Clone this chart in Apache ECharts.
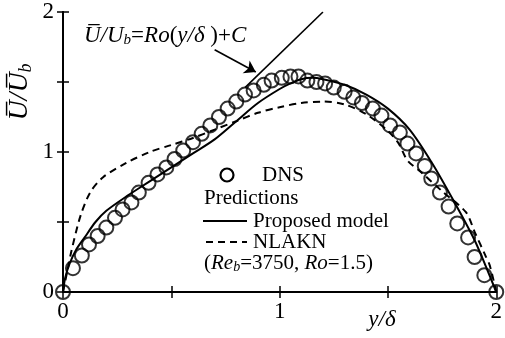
<!DOCTYPE html>
<html><head><meta charset="utf-8">
<script src="https://cdn.jsdelivr.net/npm/echarts@6/dist/echarts.min.js"></script>
<style>html,body{margin:0;padding:0;background:#fff}#c{width:505px;height:338px}</style>
</head><body><div id="c"></div>
<script>
var dnsX = [0, 0.046, 0.087, 0.12, 0.16, 0.2, 0.24, 0.275, 0.316, 0.35, 0.395, 0.436, 0.477, 0.515, 0.555, 0.6, 0.64, 0.68, 0.72, 0.76, 0.8, 0.84, 0.88, 0.927, 0.963, 1.01, 1.05, 1.087, 1.128, 1.17, 1.21, 1.25, 1.30, 1.34, 1.38, 1.43, 1.47, 1.51, 1.555, 1.59, 1.63, 1.67, 1.70, 1.74, 1.78, 1.82, 1.87, 1.90, 1.945, 2.0];
var dnsY = [0, 0.17, 0.26, 0.34, 0.40, 0.46, 0.53, 0.59, 0.64, 0.71, 0.78, 0.84, 0.89, 0.95, 1.01, 1.07, 1.13, 1.19, 1.25, 1.31, 1.36, 1.41, 1.44, 1.48, 1.51, 1.53, 1.54, 1.54, 1.51, 1.50, 1.49, 1.46, 1.43, 1.39, 1.35, 1.31, 1.26, 1.19, 1.14, 1.06, 0.99, 0.90, 0.81, 0.71, 0.61, 0.49, 0.39, 0.25, 0.12, 0];
var propX = [0, 0.01, 0.03, 0.06, 0.1, 0.15, 0.2, 0.3, 0.4, 0.5, 0.6, 0.7, 0.8, 0.9, 1.0, 1.05, 1.1, 1.15, 1.2, 1.3, 1.4, 1.5, 1.6, 1.7, 1.8, 1.9, 1.95, 2.0];
var propY = [0, 0.1, 0.2, 0.3, 0.39, 0.5, 0.58, 0.69, 0.79, 0.89, 0.99, 1.09, 1.22, 1.35, 1.45, 1.49, 1.52, 1.53, 1.52, 1.48, 1.41, 1.31, 1.16, 0.93, 0.66, 0.37, 0.19, 0];
var nlaknX = [0, 0.02, 0.04, 0.08, 0.125, 0.185, 0.29, 0.4, 0.5, 0.6, 0.7, 0.8, 0.9, 1.0, 1.1, 1.2, 1.3, 1.4, 1.5, 1.55, 1.59, 1.65, 1.75, 1.86, 1.9, 1.95, 1.97, 2.0];
var nlaknY = [0, 0.15, 0.3, 0.54, 0.71, 0.82, 0.92, 1.0, 1.05, 1.10, 1.16, 1.22, 1.28, 1.32, 1.35, 1.36, 1.34, 1.27, 1.15, 1.06, 0.94, 0.86, 0.72, 0.57, 0.43, 0.26, 0.19, 0];
var roX = [0.84, 1.2];
var roY = [1.46, 2.0];
var arrowFrom = [0.70, 1.73];
var arrowTo = [0.89, 1.571];
var xTicks = ['0', '1', '2'];
var yTicks = ['0', '1', '2'];

function zip(a, b) { return a.map(function (v, i) { return [v, b[i]]; }); }
var F = "'Liberation Serif','Times New Roman',serif";
var chart = echarts.init(document.getElementById('c'));
function axBase() {
  return {
    type: 'value', min: 0, max: 2, interval: 0.5,
    axisLine: { lineStyle: { color: '#000', width: 2 } },
    axisTick: { inside: true, length: 6, lineStyle: { color: '#000', width: 1.5 } },
    splitLine: { show: false }
  };
}
chart.setOption({
  animation: false,
  grid: { left: 63, right: 6, top: 12, bottom: 46 },
  xAxis: [
    Object.assign(axBase(), { position: 'bottom',
      axisLabel: { color: '#000', fontFamily: F, fontSize: 23, margin: 8, formatter: function (v) { return (v % 1 === 0) ? xTicks[v] : ''; } } }),
    Object.assign(axBase(), { position: 'top', axisLabel: { show: false } })
  ],
  yAxis: [
    Object.assign(axBase(), { position: 'left',
      axisLabel: { color: '#000', fontFamily: F, fontSize: 23, margin: 9, formatter: function (v) { return (v % 1 === 0) ? yTicks[v] : ''; } } }),
    Object.assign(axBase(), { position: 'right', axisLabel: { show: false } })
  ],
  series: [
    { type: 'line', data: zip(roX, roY), symbol: 'none', lineStyle: { color: '#000', width: 1.6 } },
    { type: 'lines', coordinateSystem: 'cartesian2d', symbol: ['none', 'arrow'], symbolSize: 11,
      lineStyle: { color: '#000', width: 1.6, opacity: 1 }, data: [{ coords: [arrowFrom, arrowTo] }] },
    { type: 'line', data: zip(propX, propY), symbol: 'none', smooth: 0.3, lineStyle: { color: '#000', width: 2 } },
    { type: 'line', data: zip(nlaknX, nlaknY), symbol: 'none', smooth: 0.3, lineStyle: { color: '#000', width: 2, type: [7, 5] } },
    { type: 'scatter', data: zip(dnsX, dnsY), symbol: 'circle', symbolSize: 14,
      itemStyle: { color: 'rgba(0,0,0,0)', borderColor: '#000', borderWidth: 2 } }
  ],
  graphic: [
    { type: 'text', left: 84, top: 24, style: { text: '{i|U\u0305/U}{s|b}{n|=}{i|Ro}{n|(}{i|y/\u03B4 }{n|)+}{i|C}',
      rich: { i: { fontFamily: F, fontStyle: 'italic', fontSize: 23, fill: '#000' },
              n: { fontFamily: F, fontSize: 23, fill: '#000' },
              s: { fontFamily: F, fontStyle: 'italic', fontSize: 15, fill: '#000', padding: [9, 0, 0, 0] } } } },
    { type: 'text', x: 20, y: 92, rotation: Math.PI / 2, style: { text: '{i|U\u0305/U\u0305}{s|b}', align: 'center', verticalAlign: 'middle',
      rich: { i: { fontFamily: F, fontStyle: 'italic', fontSize: 28, fill: '#000' },
              s: { fontFamily: F, fontStyle: 'italic', fontSize: 18, fill: '#000', padding: [12, 0, 0, 0] } } } },
    { type: 'text', x: 382, y: 320, style: { text: 'y/\u03B4', align: 'center', verticalAlign: 'middle', fontFamily: F, fontStyle: 'italic', fontSize: 23, fill: '#000' } },
    { type: 'circle', shape: { cx: 227, cy: 175, r: 6.5 }, style: { fill: 'none', stroke: '#000', lineWidth: 2.2 } },
    { type: 'text', x: 262, y: 175, style: { text: 'DNS', verticalAlign: 'middle', fontFamily: F, fontSize: 21, fill: '#000' } },
    { type: 'text', x: 204, y: 198, style: { text: 'Predictions', verticalAlign: 'middle', fontFamily: F, fontSize: 21, fill: '#000' } },
    { type: 'line', shape: { x1: 203, y1: 221, x2: 247, y2: 221 }, style: { stroke: '#000', lineWidth: 2 } },
    { type: 'text', x: 253, y: 221, style: { text: 'Proposed model', verticalAlign: 'middle', fontFamily: F, fontSize: 21, fill: '#000' } },
    { type: 'line', shape: { x1: 206, y1: 242, x2: 247, y2: 242 }, style: { stroke: '#000', lineWidth: 2, lineDash: [7, 5] } },
    { type: 'text', x: 253, y: 242, style: { text: 'NLAKN', verticalAlign: 'middle', fontFamily: F, fontSize: 21, fill: '#000' } },
    { type: 'text', x: 204, y: 263, style: { text: '{n|(}{i|Re}{s|b}{n|=3750, }{i|Ro}{n|=1.5)}', verticalAlign: 'middle',
      rich: { i: { fontFamily: F, fontStyle: 'italic', fontSize: 21, fill: '#000' },
              n: { fontFamily: F, fontSize: 21, fill: '#000' },
              s: { fontFamily: F, fontStyle: 'italic', fontSize: 14, fill: '#000', padding: [9, 0, 0, 0] } } } }
  ]
});
</script></body></html>
